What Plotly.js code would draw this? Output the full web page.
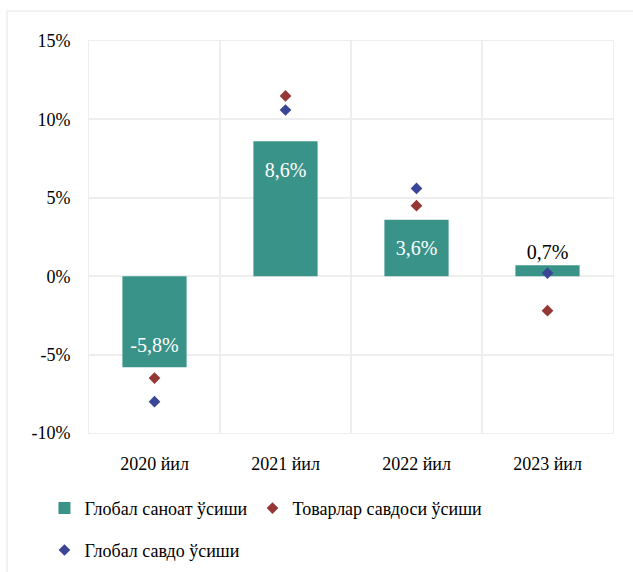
<!DOCTYPE html>
<html>
<head>
<meta charset="utf-8">
<script src="https://cdn.plot.ly/plotly-3.0.1.min.js"></script>
<style>html,body{margin:0;padding:0;background:#fff;}#chart{width:633px;height:572px;}</style>
</head>
<body>
<div id="chart"></div>
<script>
const categories = ['2020 йил', '2021 йил', '2022 йил', '2023 йил'];
const industryGrowth = [-5.8, 8.6, 3.6, 0.7];      // Глобал саноат ўсиши (bars)
const goodsTradeGrowth = [-6.5, 11.5, 4.5, -2.2];   // Товарлар савдоси ўсиши
const globalTradeGrowth = [-8.0, 10.6, 5.6, 0.2];   // Глобал савдо ўсиши
const yTickVals = [-10, -5, 0, 5, 10, 15];
const yTickText = ['-10%', '-5%', '0%', '5%', '10%', '15%'];
const seriesNames = ['Глобал саноат ўсиши', 'Товарлар савдоси ўсиши', 'Глобал савдо ўсиши'];

const FONT = 'Liberation Serif';
const xIdx = categories.map((_, i) => i);
const fmt = v => v.toFixed(1).replace('.', ',') + '%';
const small = industryGrowth.map(v => Math.abs(v) < 2);
const labelText = industryGrowth.map(fmt);
const labelPos = industryGrowth.map((v, i) => small[i] ? 'top center' : (v > 0 ? 'bottom center' : 'top center'));
const labelColor = small.map(s => s ? '#000000' : '#ffffff');
const labelOffset = industryGrowth.map((v, i) => small[i] ? 1 : (v > 0 ? 31 : 15));

const traces = [
  {
    type: 'bar', name: seriesNames[0], x: xIdx, y: industryGrowth,
    marker: {color: '#3A9388'}, hoverinfo: 'skip'
  },
  {
    type: 'scatter', mode: 'markers', name: seriesNames[1], x: xIdx, y: goodsTradeGrowth,
    marker: {symbol: 'diamond', size: 9, color: '#953735'}
  },
  {
    type: 'scatter', mode: 'markers', name: seriesNames[2], x: xIdx, y: globalTradeGrowth,
    marker: {symbol: 'diamond', size: 9, color: '#3B4597'}, legend: 'legend2'
  },
  {
    type: 'scatter', mode: 'markers+text', x: xIdx, y: industryGrowth, showlegend: false,
    text: labelText, textposition: labelPos,
    textfont: {family: FONT, size: 20, color: labelColor},
    marker: {size: labelOffset, opacity: 0, color: '#ffffff'},
    cliponaxis: false, hoverinfo: 'skip'
  }
];

const layout = {
  width: 633, height: 572,
  margin: {l: 89, r: 20, t: 41, b: 139, autoexpand: false},
  paper_bgcolor: '#ffffff', plot_bgcolor: '#ffffff',
  font: {family: FONT, size: 18, color: '#000000'},
  bargap: 0.51,
  showlegend: true,
  xaxis: {
    range: [-0.5, 3.5], tickvals: xIdx, ticktext: categories,
    showgrid: false, zeroline: false, ticks: '', ticklabelstandoff: 14,
    showline: true, mirror: true, linecolor: '#eeeeee', linewidth: 1,
    minor: {tickvals: [-0.5, 0.5, 1.5, 2.5, 3.5], showgrid: true, gridcolor: '#eeeeee', gridwidth: 2, ticks: ''},
    tickfont: {family: FONT, size: 18, color: '#000'}, fixedrange: true
  },
  yaxis: {
    range: [-10, 15], tickvals: yTickVals, ticktext: yTickText,
    showgrid: true, gridcolor: '#eeeeee', gridwidth: 2, zeroline: false,
    showline: true, mirror: true, linecolor: '#eeeeee', linewidth: 1,
    ticks: '', ticklabelstandoff: 14,
    tickfont: {family: FONT, size: 18, color: '#000'}, fixedrange: true
  },
  legend: {
    orientation: 'h', x: -0.085, xanchor: 'left', y: -0.145, yanchor: 'top',
    font: {family: FONT, size: 18, color: '#000'},
    bgcolor: 'rgba(0,0,0,0)', itemclick: false, itemdoubleclick: false
  },
  legend2: {
    orientation: 'h', x: -0.085, xanchor: 'left', y: -0.252, yanchor: 'top',
    font: {family: FONT, size: 18, color: '#000'},
    bgcolor: 'rgba(0,0,0,0)', itemclick: false, itemdoubleclick: false
  },
  shapes: [
    {type: 'rect', xref: 'paper', yref: 'paper', x0: -0.1565, x1: 1.1, y0: -0.5, y1: 1.0765,
     line: {color: '#eeeeee', width: 1.5}, fillcolor: 'rgba(0,0,0,0)', layer: 'below'}
  ]
};

Plotly.newPlot('chart', traces, layout, {displayModeBar: false, staticPlot: true});
</script>
</body>
</html>
